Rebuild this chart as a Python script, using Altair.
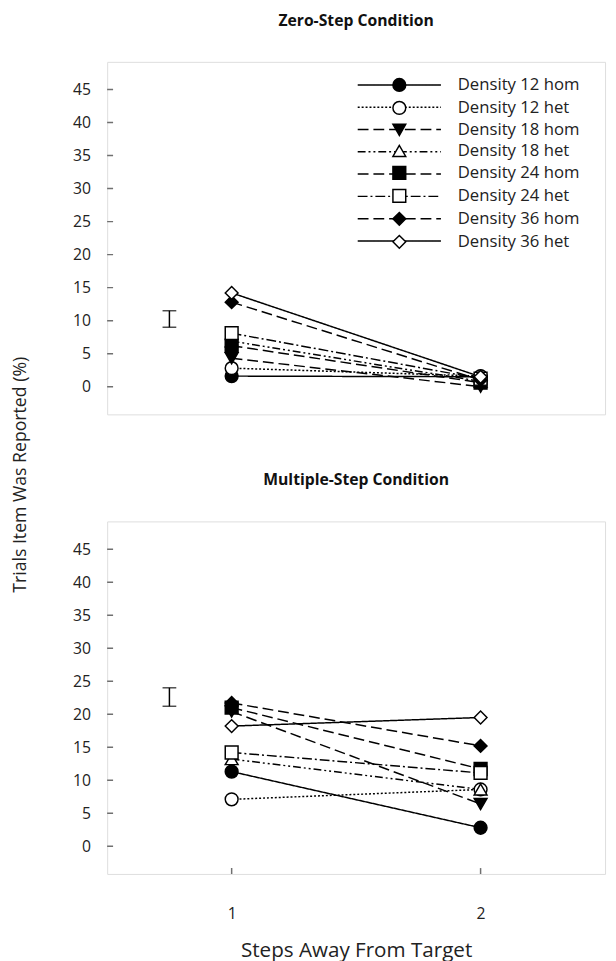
import altair as alt
import pandas as pd

series = ["Density 12 hom", "Density 12 het", "Density 18 hom", "Density 18 het",
          "Density 24 hom", "Density 24 het", "Density 36 hom", "Density 36 het"]
shapes = ["circle", "circle", "triangle-down", "triangle-up", "square", "square", "diamond", "diamond"]
fills = ["black", "white", "black", "white", "black", "white", "black", "white"]
strokes = ["black"] * len(series)
dashes = [[1, 0], [2, 2], [11, 5], [8, 3, 2, 3, 2, 3], [11, 5], [10, 3, 2, 3], [11, 5], [1, 0]]

# Zero-step condition (steps away from target 1 and 2)
zero_step1 = [1.6, 2.8, 4.3, 6.9, 6.2, 8.1, 12.8, 14.2]
zero_step2 = [1.5, 1.6, 0.0, 0.8, 0.6, 1.2, 1.0, 1.5]
# Multiple-step condition
multi_step1 = [11.3, 7.1, 20.4, 13.2, 21.0, 14.2, 21.7, 18.2]
multi_step2 = [2.8, 8.6, 6.4, 8.6, 11.7, 11.1, 15.2, 19.5]

err_x = 0.75
zero_err = [9.0, 11.5]
multi_err = [21.2, 24.0]

y_ticks = [0, 5, 10, 15, 20, 25, 30, 35, 40, 45]
x_ticks = [1, 2]
x_domain = [0.5, 2.5]
y_domain = [-4.2, 49.2]

FONT = "Open Sans"
W, H = 507, 359


def long_df(v1, v2):
    rows = []
    for s, a, b in zip(series, v1, v2):
        rows.append({"series": s, "series2": s, "step": x_ticks[0], "value": a})
        rows.append({"series": s, "series2": s, "step": x_ticks[1], "value": b})
    return pd.DataFrame(rows)


def panel(v1, v2, err, title, bottom):
    df = long_df(v1, v2)
    if bottom:
        xaxis = alt.Axis(values=x_ticks, ticks=False, domain=False, grid=False,
                         labelPadding=32, labelFontSize=16, labelFont=FONT,
                         labelColor="#222", title="Steps Away From Target",
                         titleFont=FONT, titleFontSize=21, titleFontWeight="normal",
                         titleColor="#222", titlePadding=19, format="d")
    else:
        xaxis = None
    x = alt.X("step:Q", scale=alt.Scale(domain=x_domain, nice=False, zero=False), axis=xaxis)
    y = alt.Y("value:Q", scale=alt.Scale(domain=y_domain, nice=False, zero=False),
              axis=alt.Axis(values=y_ticks, ticks=False, domain=False, grid=False,
                            labelPadding=17, labelFontSize=16, labelFont=FONT,
                            labelColor="#222", title=None))

    LX, LY = 289, 15
    if not bottom:
        dash_leg = alt.Legend(orient="none", legendX=LX, legendY=LY, title=None,
                              symbolType="M-6.5,0H6.5", symbolSize=170,
                              symbolStrokeColor="black", symbolStrokeWidth=1.5,
                              labelOpacity=0, labelFontSize=17, labelFont=FONT,
                              labelOffset=51, rowPadding=4.7, padding=0, zindex=1)
        shape_leg = alt.Legend(orient="none", legendX=LX, legendY=LY, title=None,
                               symbolSize=170, symbolStrokeWidth=1.5,
                               labelFontSize=17, labelFont=FONT,
                               labelColor="#222", labelOffset=51, rowPadding=2.4,
                               padding=0, zindex=2)
    else:
        dash_leg = None
        shape_leg = None

    lines = alt.Chart(df).mark_line(color="black", strokeWidth=1.5).encode(
        x=x, y=y,
        strokeDash=alt.StrokeDash("series:N", sort=series, scale=alt.Scale(range=dashes),
                                  legend=dash_leg),
    )
    points = alt.Chart(df).mark_point(filled=True, size=170,
                                      strokeWidth=1.5, opacity=1).encode(
        x=x, y=y,
        shape=alt.Shape("series2:N", scale=alt.Scale(domain=series, range=shapes),
                        legend=shape_leg),
        fill=alt.Fill("series2:N", scale=alt.Scale(domain=series, range=fills),
                      legend=shape_leg),
        stroke=alt.Stroke("series2:N", scale=alt.Scale(domain=series, range=strokes),
                          legend=shape_leg),
    )
    err_df = pd.DataFrame({"step": [err_x], "value": [err[0]], "value2": [err[1]]})
    rule = alt.Chart(err_df).mark_rule(color="black", strokeWidth=1.5).encode(
        x=x, y=y, y2="value2:Q")
    cap_df = pd.DataFrame({"step": [err_x, err_x], "value": err})
    caps = alt.Chart(cap_df).mark_tick(orient="horizontal", size=14, thickness=1.5,
                                       color="black").encode(x=x, y=y)
    ytick_df = pd.DataFrame({"step": [x_domain[0]] * len(y_ticks), "value": y_ticks})
    yticks = alt.Chart(ytick_df).mark_tick(orient="horizontal", size=12, thickness=1.5,
                                           color="#333", clip=True).encode(x=x, y=y)
    layers = [lines, points, rule, caps, yticks]
    if bottom:
        xtick_df = pd.DataFrame({"step": x_ticks, "value": [y_domain[0]] * len(x_ticks)})
        xticks = alt.Chart(xtick_df).mark_tick(orient="vertical", size=12, thickness=1.5,
                                               color="#333", clip=True).encode(x=x, y=y)
        layers.append(xticks)
    return alt.layer(*layers).properties(
        width=W, height=H,
        title=alt.TitleParams(title, font=FONT, fontSize=16, fontWeight="bold",
                              color="#111", offset=34),
    )


top = panel(zero_step1, zero_step2, zero_err, "Zero-Step Condition", False)
bot = panel(multi_step1, multi_step2, multi_err, "Multiple-Step Condition", True)

chart = alt.vconcat(top, bot, spacing=57).resolve_legend(
    shape="independent", fill="independent", stroke="independent",
    strokeDash="independent"
).properties(
    title=alt.TitleParams("Trials Item Was Reported (%)", orient="left", anchor="middle",
                          font=FONT, fontSize=18, fontWeight="normal", color="#222",
                          offset=43, dx=12),
    padding={"left": 4, "top": -5, "right": 2, "bottom": 2},
).configure_view(stroke="#333", strokeWidth=2).configure(background="white")

chart.save("out.html", embed_options={"renderer": "svg", "actions": False})
